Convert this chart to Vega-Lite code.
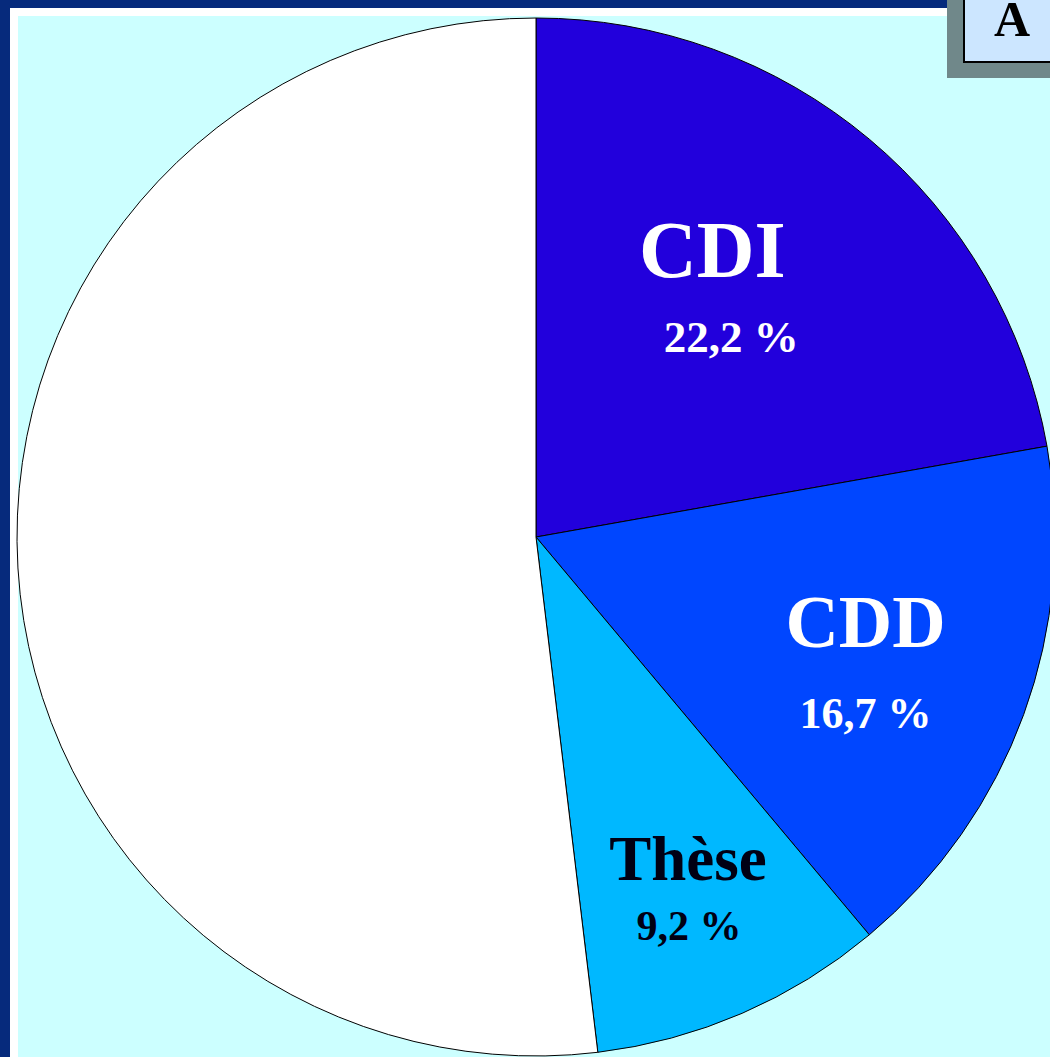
{
  "$schema": "https://vega.github.io/schema/vega-lite/v6.json",
  "width": 1044,
  "height": 1050,
  "autosize": {"type": "none"},
  "padding": {"left": 14, "top": 12, "right": -8, "bottom": -5},
  "background": "#062A7C",
  "view": {"fill": "#CCFFFF", "stroke": "#FFFFFF", "strokeWidth": 8},
  "config": {"view": {"fill": "#CCFFFF", "stroke": "#FFFFFF", "strokeWidth": 8}},
  "data": {"values": [
    {"type": "CDI", "pct": 22.2, "label": "22,2 %", "ord": 1},
    {"type": "CDD", "pct": 16.7, "label": "16,7 %", "ord": 2},
    {"type": "Thèse", "pct": 9.2, "label": "9,2 %", "ord": 3},
    {"type": "Autres", "pct": 51.9, "label": "51,9 %", "ord": 4}
  ]},
  "layer": [
    {
      "mark": {"type": "arc", "radius": 519, "stroke": "#000000", "strokeWidth": 1},
      "encoding": {
        "theta": {"field": "pct", "type": "quantitative", "stack": true},
        "order": {"field": "ord", "type": "quantitative"},
        "color": {"field": "type", "type": "nominal", "legend": null,
          "scale": {"domain": ["CDI", "CDD", "Thèse", "Autres"], "range": ["#2200DC", "#0046FF", "#00B8FF", "#FFFFFF"]}}
      }
    },
    {
      "mark": {"type": "text", "radius": 340, "dx": -42, "dy": 1, "font": "Liberation Serif", "fontWeight": "bold", "fontSize": 80, "color": "#FFFFFF", "align": "center", "baseline": "alphabetic"},
      "encoding": {
        "theta": {"field": "pct", "type": "quantitative", "stack": true},
        "order": {"field": "ord", "type": "quantitative"},
        "detail": {"field": "type", "type": "nominal"},
        "text": {"condition": {"test": "datum.type === 'CDI'", "field": "type", "type": "nominal"}, "value": ""}
      }
    },
    {
      "mark": {"type": "text", "radius": 340, "dx": -23, "dy": 76, "font": "Liberation Serif", "fontWeight": "bold", "fontSize": 45, "color": "#FFFFFF", "align": "center", "baseline": "alphabetic"},
      "encoding": {
        "theta": {"field": "pct", "type": "quantitative", "stack": true},
        "order": {"field": "ord", "type": "quantitative"},
        "detail": {"field": "type", "type": "nominal"},
        "text": {"condition": {"test": "datum.type === 'CDI'", "field": "label", "type": "nominal"}, "value": ""}
      }
    },
    {
      "mark": {"type": "text", "radius": 340, "dx": 10, "dy": -6, "font": "Liberation Serif", "fontWeight": "bold", "fontSize": 74, "color": "#FFFFFF", "align": "center", "baseline": "alphabetic"},
      "encoding": {
        "theta": {"field": "pct", "type": "quantitative", "stack": true},
        "order": {"field": "ord", "type": "quantitative"},
        "detail": {"field": "type", "type": "nominal"},
        "text": {"condition": {"test": "datum.type === 'CDD'", "field": "type", "type": "nominal"}, "value": ""}
      }
    },
    {
      "mark": {"type": "text", "radius": 340, "dx": 10, "dy": 75, "font": "Liberation Serif", "fontWeight": "bold", "fontSize": 44, "color": "#FFFFFF", "align": "center", "baseline": "alphabetic"},
      "encoding": {
        "theta": {"field": "pct", "type": "quantitative", "stack": true},
        "order": {"field": "ord", "type": "quantitative"},
        "detail": {"field": "type", "type": "nominal"},
        "text": {"condition": {"test": "datum.type === 'CDD'", "field": "label", "type": "nominal"}, "value": ""}
      }
    },
    {
      "mark": {"type": "text", "radius": 340, "dx": 17, "dy": 31, "font": "Liberation Serif", "fontWeight": "bold", "fontSize": 63, "color": "#000014", "align": "center", "baseline": "alphabetic"},
      "encoding": {
        "theta": {"field": "pct", "type": "quantitative", "stack": true},
        "order": {"field": "ord", "type": "quantitative"},
        "detail": {"field": "type", "type": "nominal"},
        "text": {"condition": {"test": "datum.type === 'Thèse'", "field": "type", "type": "nominal"}, "value": ""}
      }
    },
    {
      "mark": {"type": "text", "radius": 340, "dx": 18, "dy": 91, "font": "Liberation Serif", "fontWeight": "bold", "fontSize": 42, "color": "#000014", "align": "center", "baseline": "alphabetic"},
      "encoding": {
        "theta": {"field": "pct", "type": "quantitative", "stack": true},
        "order": {"field": "ord", "type": "quantitative"},
        "detail": {"field": "type", "type": "nominal"},
        "text": {"condition": {"test": "datum.type === 'Thèse'", "field": "label", "type": "nominal"}, "value": ""}
      }
    },
    {
      "data": {"values": [{"panel": "A"}]},
      "mark": {"type": "rect", "x": 933, "x2": 1050, "y": -12, "y2": 66, "color": "#70888A"},
      "encoding": {}
    },
    {
      "data": {"values": [{"panel": "A"}]},
      "mark": {"type": "rect", "x": 950, "x2": 1060, "y": -20, "y2": 50, "fill": "#CCE6FF", "stroke": "#000000", "strokeWidth": 2},
      "encoding": {}
    },
    {
      "data": {"values": [{"panel": "A"}]},
      "mark": {"type": "text", "x": 998, "y": 24, "font": "Liberation Serif", "fontWeight": "bold", "fontSize": 50, "color": "#000000", "align": "center", "baseline": "alphabetic"},
      "encoding": {"text": {"field": "panel", "type": "nominal"}}
    }
  ]
}
